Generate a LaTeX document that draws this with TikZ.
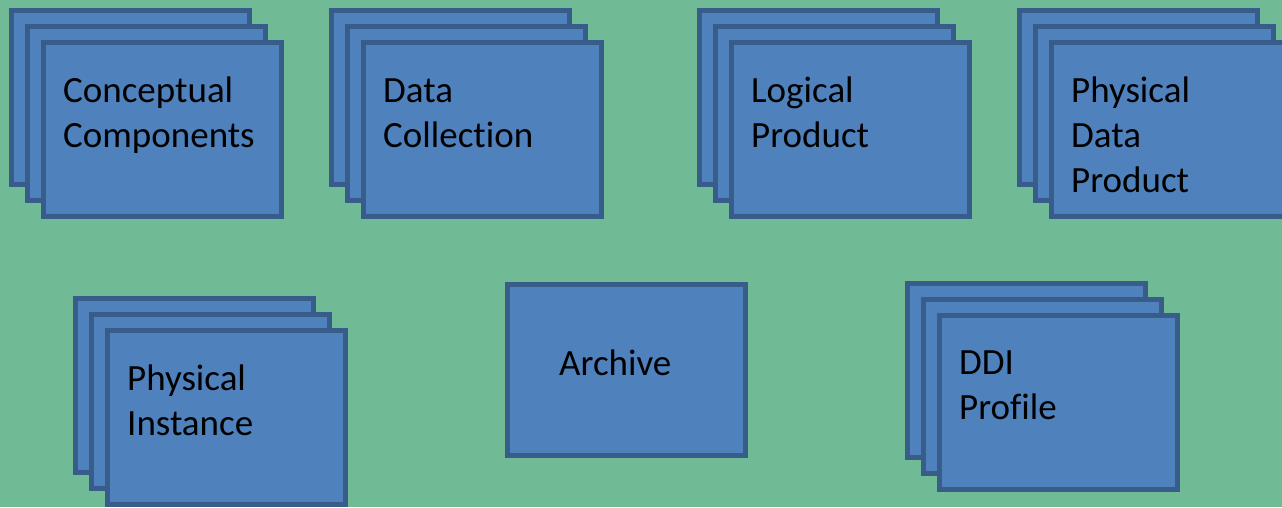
\documentclass[tikz,border=0pt]{standalone}
\usepackage{fontspec}
\setmainfont{Carlito}[Ligatures={NoCommon}]
\definecolor{bg}{RGB}{112,186,150}
\definecolor{boxfill}{RGB}{79,129,189}
\definecolor{boxline}{RGB}{56,93,138}
\begin{document}
\begin{tikzpicture}[x=1pt,y=-1pt,
  card/.style={draw=boxline,fill=boxfill,line width=5pt,rectangle,
    minimum width=238pt,minimum height=174pt,anchor=north west,inner sep=0pt,outer sep=0pt},
  lbl/.style={anchor=base west,inner sep=0pt,align=left,
    font=\fontsize{37}{45}\selectfont,text=black}]
\useasboundingbox (0,0) rectangle (1282,507);
\fill[bg] (0,0) rectangle (1282,507);
\clip (0,0) rectangle (1282,507);
% Conceptual Components
\node[card] (cc1) at (11.5,10.5) {};
\node[card] (cc2) at (27.5,26) {};
\node[card] (cc3) at (43.5,42) {};
\node[lbl] (cct) at (63,147) {Conceptual\\Components};
% Data Collection
\node[card] (dc1) at (331.5,10.5) {};
\node[card] (dc2) at (347.5,26) {};
\node[card] (dc3) at (363.5,42) {};
\node[lbl] (dct) at (383,147) {Data\\Collection};
% Logical Product
\node[card] (lp1) at (699.5,10.5) {};
\node[card] (lp2) at (715.5,26) {};
\node[card] (lp3) at (731.5,42) {};
\node[lbl] (lpt) at (751,147) {Logical\\Product};
% Physical Data Product
\node[card] (pd1) at (1019.5,10.5) {};
\node[card] (pd2) at (1035.5,26) {};
\node[card] (pd3) at (1051.5,42) {};
\node[lbl] (pdt) at (1071,192) {Physical\\Data\\Product};
% Physical Instance
\node[card] (pi1) at (75.5,298.5) {};
\node[card] (pi2) at (91.5,314.5) {};
\node[card] (pi3) at (107.5,330.5) {};
\node[lbl] (pit) at (127,435) {Physical\\Instance};
% Archive
\node[card,minimum height=171pt] (ar) at (507.5,284.5) {};
\node[lbl] (art) at (559,375) {Archive};
% DDI Profile
\node[card] (dp1) at (907.5,283.5) {};
\node[card] (dp2) at (923.5,299.5) {};
\node[card] (dp3) at (939.5,315.5) {};
\node[lbl] (dpt) at (959,419) {DDI\\Profile};
\end{tikzpicture}
\end{document}
